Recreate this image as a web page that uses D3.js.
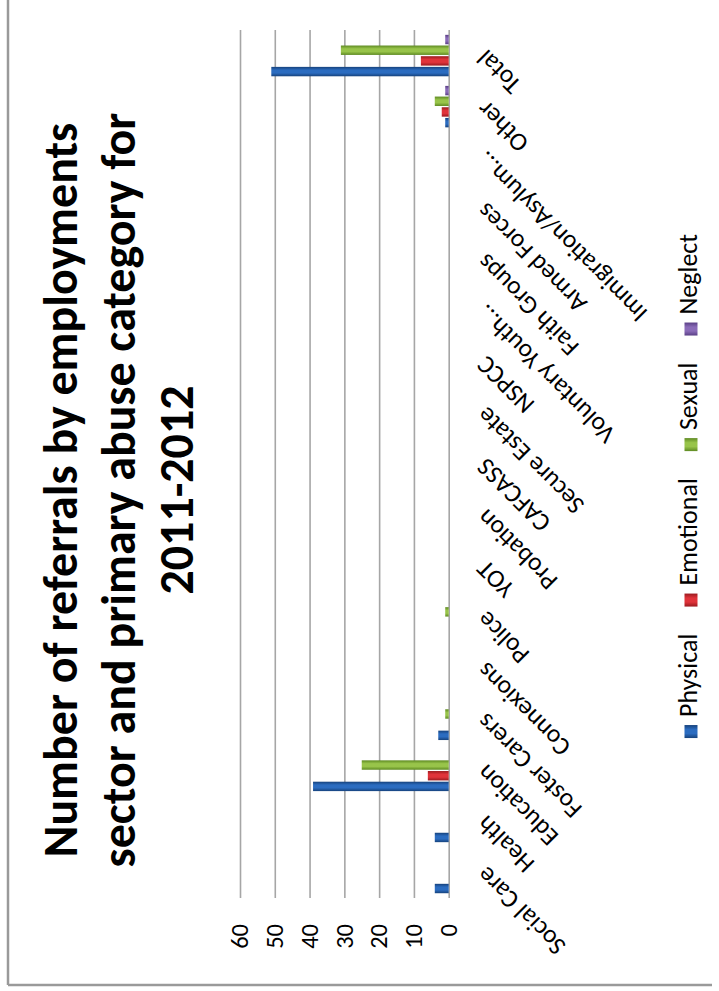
<!DOCTYPE html>
<html>
<head>
<meta charset="utf-8">
<script src="https://cdn.jsdelivr.net/npm/d3@7/dist/d3.min.js"></script>
<style>
  html, body { margin: 0; padding: 0; background: #fff; }
  svg { display: block; }
  text { font-family: Carlito, Lato, "Open Sans", sans-serif; fill: #000; }
</style>
</head>
<body>
<svg id="chart" width="719" height="991"></svg>
<script>
const categories = ["Social Care","Health","Education","Foster Carers","Connexions","Police","YOT","Probation","CAFCASS","Secure Estate","NSPCC","Voluntary Youth…","Faith Groups","Armed Forces","Immigration/Asylum…","Other","Total"];
const seriesNames = ["Physical","Emotional","Sexual","Neglect"];
const physical  = [4,4,39,3,0,0,0,0,0,0,0,0,0,0,0,1,51];
const emotional = [0,0,6,0,0,0,0,0,0,0,0,0,0,0,0,2,8];
const sexual    = [0,0,25,1,0,1,0,0,0,0,0,0,0,0,0,4,31];
const neglect   = [0,0,0,0,0,0,0,0,0,0,0,0,0,0,0,1,1];
const tickValues = [0,10,20,30,40,50,60];
const titleLines = ["Number of referrals by employments","sector and primary abuse category for","2011-2012"];

const seriesValues = [physical, emotional, sexual, neglect];
const colors = {
  Physical:  {mid:"#2b6cc0", edge:"#16427c"},
  Emotional: {mid:"#e0333a", edge:"#9a1a1f"},
  Sexual:    {mid:"#98c44a", edge:"#5e8a22"},
  Neglect:   {mid:"#8a6bb8", edge:"#5a3f85"}
};

const svg = d3.select("#chart");
svg.append("rect").attr("width",719).attr("height",991).attr("fill","#fff");

// frame (page coordinates)
svg.append("line").attr("x1",8).attr("x2",8).attr("y1",0).attr("y2",985)
  .attr("stroke","#9a9a9a").attr("stroke-width",2.5);
svg.append("line").attr("x1",8).attr("x2",712).attr("y1",985).attr("y2",985)
  .attr("stroke","#9a9a9a").attr("stroke-width",2.5);

const defs = svg.append("defs");
seriesNames.forEach((s,i) => {
  const gr = defs.append("linearGradient").attr("id","grad"+i)
    .attr("x1","0").attr("x2","1").attr("y1","0").attr("y2","0");
  gr.append("stop").attr("offset","0%").attr("stop-color",colors[s].edge);
  gr.append("stop").attr("offset","35%").attr("stop-color",colors[s].mid);
  gr.append("stop").attr("offset","65%").attr("stop-color",colors[s].mid);
  gr.append("stop").attr("offset","100%").attr("stop-color",colors[s].edge);
});

// chart drawn in its own unrotated frame, then turned 90° counter-clockwise
const g = svg.append("g").attr("transform","translate(0,991) rotate(-90)");

const x0 = d3.scaleBand().domain(categories).range([93, 961]).paddingInner(0).paddingOuter(0);
const x1 = d3.scaleBand().domain(seriesNames).range([3.5, 47.5]).padding(0.12);
const y = d3.scaleLinear().domain([0,60]).range([448.7, 240]);

// gridlines + value axis
const yAxis = d3.axisLeft(y).tickValues(tickValues).tickSize(-(961-93)).tickPadding(26);
const ya = g.append("g").attr("transform","translate(93,0)").call(yAxis);
ya.select(".domain").remove();
ya.selectAll(".tick line").attr("stroke","#a6a6a6").attr("stroke-width",1.6);
ya.selectAll(".tick text").attr("font-size",24.5).attr("fill","#000")
  .style("font-family","Carlito, Lato, 'Open Sans', sans-serif");

// bars
const groups = g.append("g").selectAll("g").data(categories).join("g")
  .attr("transform", d => `translate(${x0(d)},0)`);
groups.selectAll("rect")
  .data((d,ci) => seriesNames.map((s,si) => ({s, si, v: seriesValues[si][ci]})))
  .join("rect")
  .attr("x", d => x1(d.s))
  .attr("width", x1.bandwidth())
  .attr("y", d => y(d.v))
  .attr("height", d => y(0) - y(d.v))
  .attr("fill", d => `url(#grad${d.si})`);

// category labels
g.append("g").selectAll("text").data(categories).join("text")
  .attr("transform", d => `translate(${x0(d) + x0.bandwidth()/2 + 1},481) rotate(-45)`)
  .attr("text-anchor","end")
  .attr("dy","0.35em")
  .attr("font-size",25.5)
  .text(d => d);

// title
const title = g.append("g");
const baselines = [77, 135, 193];
title.selectAll("text").data(titleLines).join("text")
  .attr("x", 501)
  .attr("y", (d,i) => baselines[i])
  .attr("text-anchor","middle")
  .attr("font-weight","bold")
  .attr("font-size",46)
  .text(d => d);
const l2 = title.selectAll("text").nodes()[1];
const len = l2.getComputedTextLength();
if (len > 0) title.selectAll("text").attr("font-size", 46 * 755 / len);

// legend
const legend = g.append("g");
const items = legend.selectAll("g").data(seriesNames).join("g");
items.append("rect").attr("width",13).attr("height",13).attr("y",684.5)
  .attr("fill",(d,i)=>`url(#grad${i})`);
items.append("text").attr("x",21).attr("y",697).attr("font-size",26).text(d=>d);
const widths = items.nodes().map(n => 21 + d3.select(n).select("text").node().getComputedTextLength());
const gap = 27;
const total = d3.sum(widths) + gap*(widths.length-1);
let pos = 505 - total/2;
items.attr("transform",(d,i)=>{ const p = pos; pos += widths[i] + gap; return `translate(${p},0)`; });
</script>
</body>
</html>
